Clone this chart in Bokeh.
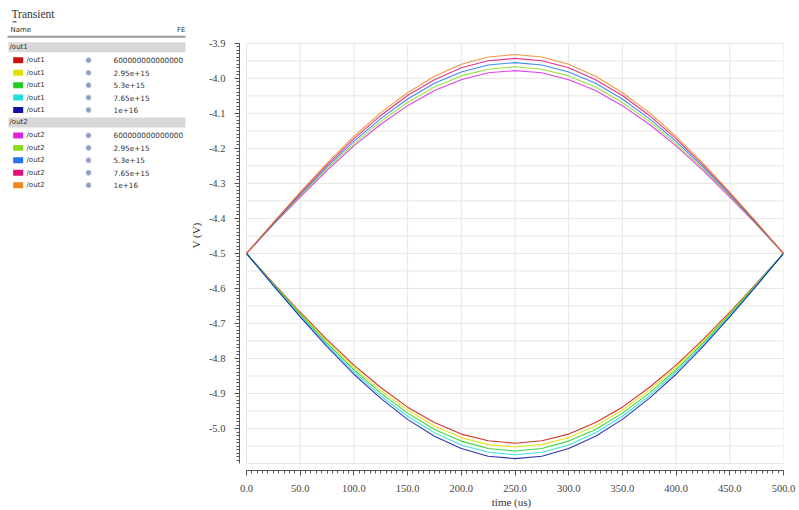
from bokeh.plotting import figure
from bokeh.layouts import row
from bokeh.models import Range1d, SingleIntervalTicker, NumeralTickFormatter, ColumnDataSource
from bokeh.core.properties import value
from bokeh.embed import file_html
from bokeh.resources import INLINE

# ---------------- data ----------------
time_us = [0, 25, 50, 75, 100, 125, 150, 175, 200, 225, 250,
           275, 300, 325, 350, 375, 400, 425, 450, 475, 500]

fe_labels = ["600000000000000", "2.95e+15", "5.3e+15", "7.65e+15", "1e+16"]

out1_colors = ["#cc1111", "#e0e000", "#22cc22", "#22dddd", "#1111aa"]
out2_colors = ["#dd22dd", "#88dd22", "#2277ee", "#dd1177", "#ee8822"]

out1_red = [-4.500, -4.585, -4.668, -4.746, -4.819, -4.883, -4.939, -4.983, -5.016, -5.035, -5.042,
            -5.035, -5.016, -4.983, -4.939, -4.883, -4.819, -4.746, -4.668, -4.585, -4.500]
out1_yellow = [-4.500, -4.587, -4.671, -4.751, -4.825, -4.891, -4.947, -4.993, -5.026, -5.046, -5.053,
               -5.046, -5.026, -4.993, -4.947, -4.891, -4.825, -4.751, -4.671, -4.587, -4.500]
out1_green = [-4.500, -4.588, -4.674, -4.756, -4.832, -4.899, -4.956, -5.003, -5.036, -5.057, -5.064,
              -5.057, -5.036, -5.003, -4.956, -4.899, -4.832, -4.756, -4.674, -4.588, -4.500]
out1_cyan = [-4.500, -4.590, -4.678, -4.761, -4.838, -4.907, -4.965, -5.012, -5.047, -5.068, -5.075,
             -5.068, -5.047, -5.012, -4.965, -4.907, -4.838, -4.761, -4.678, -4.590, -4.500]
out1_blue = [-4.500, -4.592, -4.681, -4.766, -4.845, -4.914, -4.974, -5.022, -5.057, -5.079, -5.086,
             -5.079, -5.057, -5.022, -4.974, -4.914, -4.845, -4.766, -4.681, -4.592, -4.500]

out2_magenta = [-4.500, -4.418, -4.339, -4.263, -4.193, -4.131, -4.078, -4.035, -4.004, -3.984, -3.978,
                -3.984, -4.004, -4.035, -4.078, -4.131, -4.193, -4.263, -4.339, -4.418, -4.500]
out2_lime = [-4.500, -4.417, -4.335, -4.258, -4.187, -4.123, -4.069, -4.025, -3.993, -3.974, -3.967,
             -3.974, -3.993, -4.025, -4.069, -4.123, -4.187, -4.258, -4.335, -4.417, -4.500]
out2_blue = [-4.500, -4.415, -4.332, -4.253, -4.180, -4.115, -4.059, -4.014, -3.982, -3.962, -3.955,
             -3.962, -3.982, -4.014, -4.059, -4.115, -4.180, -4.253, -4.332, -4.415, -4.500]
out2_pink = [-4.500, -4.413, -4.328, -4.247, -4.173, -4.106, -4.049, -4.004, -3.970, -3.950, -3.943,
             -3.950, -3.970, -4.004, -4.049, -4.106, -4.173, -4.247, -4.328, -4.413, -4.500]
out2_orange = [-4.500, -4.411, -4.325, -4.242, -4.166, -4.098, -4.041, -3.994, -3.960, -3.939, -3.932,
               -3.939, -3.960, -3.994, -4.041, -4.098, -4.166, -4.242, -4.325, -4.411, -4.500]

out1_series = [out1_red, out1_yellow, out1_green, out1_cyan, out1_blue]
out2_series = [out2_magenta, out2_lime, out2_blue, out2_pink, out2_orange]

x_ticks = [0, 50, 100, 150, 200, 250, 300, 350, 400, 450, 500]
y_grid = [-5.1 + 0.05 * i for i in range(25)]
X_MIN, X_MAX = 0, 500
Y_MIN, Y_MAX = -5.1, -3.9

SERIF = "Liberation Serif"
SANS = "DejaVu Sans"

# ---------------- main plot ----------------
# frame: left 239, right 783, top 0, bottom 472 (page px); 0 -> 246, 500 -> 783; -5.1 -> 465, -3.9 -> 43
xs_per_px = 500 / 537.0
ys_per_px = 1.2 / 422.0
p = figure(width=613, height=510, output_backend="svg", toolbar_location=None,
           x_range=Range1d(X_MIN - 7 * xs_per_px, X_MAX),
           y_range=Range1d(Y_MIN - 7 * ys_per_px, Y_MAX + 43 * ys_per_px),
           min_border_left=53, min_border_right=16, min_border_top=0, min_border_bottom=38)
p.outline_line_color = None
p.xgrid.visible = False
p.ygrid.visible = False

# grid lines (within data bounds only)
p.segment(x0=x_ticks, y0=[Y_MIN] * len(x_ticks), x1=x_ticks, y1=[Y_MAX] * len(x_ticks),
          line_color="#e6e6e6", line_width=1, level="underlay")
p.segment(x0=[X_MIN] * len(y_grid), y0=y_grid, x1=[X_MAX] * len(y_grid), y1=y_grid,
          line_color="#e6e6e6", line_width=1, level="underlay")

for ys, c in zip(out1_series, out1_colors):
    p.line(time_us, ys, line_color=c, line_width=1.1, line_alpha=0.85)
for ys, c in zip(out2_series, out2_colors):
    p.line(time_us, ys, line_color=c, line_width=1.1, line_alpha=0.85)

p.xaxis.ticker = SingleIntervalTicker(interval=50, num_minor_ticks=10)
p.yaxis.ticker = SingleIntervalTicker(interval=0.1, num_minor_ticks=10)
p.xaxis.bounds = (X_MIN, X_MAX)
p.yaxis.bounds = (Y_MIN, Y_MAX)
p.xaxis.formatter = NumeralTickFormatter(format="0.0")
p.yaxis.formatter = NumeralTickFormatter(format="0.0")

for ax in (p.xaxis, p.yaxis):
    ax.axis_line_color = "#555555"
    ax.major_tick_line_color = "#555555"
    ax.minor_tick_line_color = "#555555"
    ax.major_tick_out = 5
    ax.major_tick_in = 0
    ax.minor_tick_out = 3
    ax.minor_tick_in = 0
    ax.major_label_text_font = SERIF
    ax.major_label_text_font_size = "10.5px"
    ax.major_label_text_color = "#444444"
    ax.axis_label_text_font = SERIF
    ax.axis_label_text_font_size = "11px"
    ax.axis_label_text_font_style = "normal"
    ax.axis_label_text_color = "#333333"

p.xaxis.axis_label = "time (us)"
p.yaxis.axis_label = "V (V)"
p.xaxis.major_label_standoff = 9
p.xaxis.axis_label_standoff = 1
p.yaxis.major_label_standoff = 9
p.yaxis.axis_label_standoff = 4

# ---------------- left browser panel ----------------
lp = figure(width=186, height=510, output_backend="svg", toolbar_location=None,
            x_range=Range1d(0, 186), y_range=Range1d(472, 0),
            min_border_left=0, min_border_right=0, min_border_top=0, min_border_bottom=38)
lp.axis.visible = False
lp.grid.visible = False
lp.outline_line_color = None

lp.text(x=[11], y=[14], text=["Transient"], text_font=value(SERIF), text_font_size="11.5px",
        text_color="#333333", text_baseline="middle")
lp.segment(x0=[12], y0=[21.5], x1=[16], y1=[21.5], line_color="#333333", line_width=1)
lp.text(x=[10], y=[30], text=["Name"], text_font=value(SANS), text_font_size="7px",
        text_color="#333333", text_baseline="middle")
lp.text(x=[185], y=[30], text=["FE"], text_font=value(SANS), text_font_size="7px",
        text_color="#333333", text_baseline="middle", text_align="right")
lp.segment(x0=[7], y0=[36.5], x1=[185], y1=[36.5], line_color="#999999", line_width=2)

groups = [("/out1", out1_colors, 42), ("/out2", out2_colors, 117.5)]
for gname, cols, top in groups:
    lp.quad(left=[8], right=[185], top=[top], bottom=[top + 10], fill_color="#d8d8d8", line_color=None)
    lp.text(x=[9], y=[top + 5], text=[gname], text_font=value(SANS), text_font_size="7px",
            text_color="#333333", text_baseline="middle")
    ys = [top + 18 + 12.5 * i for i in range(len(cols))]
    src = ColumnDataSource(dict(y=ys, c=cols, name=[gname] * len(cols), fe=fe_labels))
    lp.rect(x=17.7, y="y", width=10, height=6, fill_color="c", line_color=None, source=src)
    lp.text(x=26, y="y", text="name", text_font=value(SANS), text_font_size="7px",
            text_color="#333333", text_baseline="middle", source=src)
    lp.scatter(x=88, y="y", size=5, fill_color="#8d9cc0", line_color="#b8c2da", source=src)
    lp.text(x=113, y="y", text="fe", text_font=value(SANS), text_font_size="7.3px",
            text_color="#333333", text_baseline="middle", source=src)

layout = row(lp, p)
open("out.html", "w").write(file_html(layout, INLINE))
